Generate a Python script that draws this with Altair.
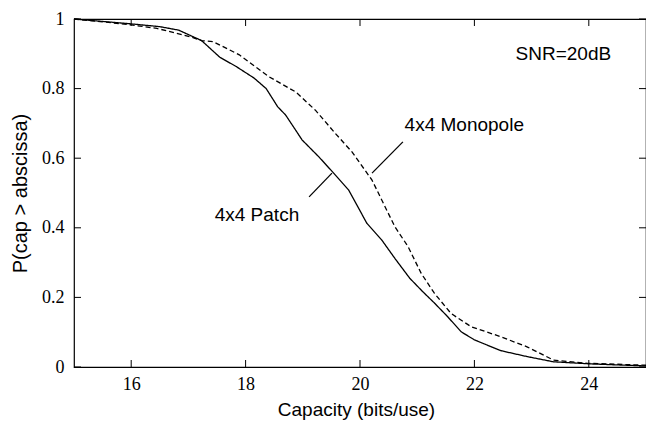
import altair as alt
import pandas as pd

# Patch (solid) curve
patch_x = [15, 15.5, 16, 16.5, 16.83, 17.23, 17.55, 17.84, 18.15, 18.36, 18.56, 18.70, 18.99,
           19.28, 19.54, 19.80, 20.12, 20.38, 20.61, 20.87, 21.10, 21.30, 21.53, 21.77, 22.0,
           22.46, 22.92, 23.38, 24.02, 25]
patch_y = [1.0, 0.993, 0.986, 0.978, 0.968, 0.938, 0.890, 0.863, 0.830, 0.800, 0.748, 0.724, 0.652,
           0.604, 0.557, 0.509, 0.413, 0.365, 0.312, 0.255, 0.216, 0.184, 0.145, 0.101, 0.078,
           0.047, 0.030, 0.015, 0.009, 0.003]

# Monopole (dashed) curve
mono_x = [15, 15.5, 16, 16.45, 17.03, 17.23, 17.43, 17.89, 18.41, 18.88, 19.22, 19.57, 19.86,
          20.21, 20.61, 20.84, 21.07, 21.30, 21.59, 21.94, 22.46, 22.92, 23.38, 23.96, 25]
mono_y = [1.0, 0.992, 0.983, 0.973, 0.949, 0.938, 0.935, 0.897, 0.834, 0.790, 0.738, 0.671, 0.618,
          0.537, 0.403, 0.346, 0.269, 0.212, 0.154, 0.116, 0.087, 0.058, 0.020, 0.011, 0.005]

x_ticks = [16, 18, 20, 22, 24]
y_ticks = [0, 0.2, 0.4, 0.6, 0.8, 1.0]

ann_text = ["SNR=20dB", "4x4 Monopole", "4x4 Patch"]
ann_x = [22.72, 20.78, 17.46]
ann_y = [0.90, 0.695, 0.437]

lead_x = [19.11, 20.75]
lead_y = [0.489, 0.647]
lead_x2 = [19.51, 20.21]
lead_y2 = [0.557, 0.557]

W, H = 572, 348
SERIF = "Liberation Serif"
SANS = "Liberation Sans"

curves = pd.DataFrame({
    "x": patch_x + mono_x,
    "y": patch_y + mono_y,
    "s": ["Patch"] * len(patch_x) + ["Monopole"] * len(mono_x),
})

xs = alt.Scale(domain=[15, 25], nice=False, zero=False)
ys = alt.Scale(domain=[0, 1], nice=False)

x_axis = alt.Axis(
    values=x_ticks, ticks=False, domain=False, grid=False,
    labelFont=SERIF, labelFontSize=18, labelColor="black",
    labelPadding=8, title="Capacity (bits/use)", titleFont=SANS,
    titleFontSize=19, titleFontWeight="normal", titleColor="black",
    titleX=W / 2 - 4, titleY=42, titleBaseline="middle")
y_axis = alt.Axis(
    values=y_ticks, format="~g", ticks=False, domain=False, grid=False,
    labelFont=SERIF, labelFontSize=18, labelColor="black",
    labelPadding=10, title="P(cap > abscissa)", titleFont=SANS,
    titleFontSize=20, titleFontWeight="normal", titleColor="black",
    titleX=-54, titleY=174, titleBaseline="middle", titleAngle=-90)


def X(field="x"):
    return alt.X(f"{field}:Q", scale=xs, axis=x_axis, title="Capacity (bits/use)")


def Y(field="y"):
    return alt.Y(f"{field}:Q", scale=ys, axis=y_axis, title="P(cap > abscissa)")


lines = alt.Chart(curves).mark_line(color="black", strokeWidth=1.3).encode(
    x=X(), y=Y(),
    strokeDash=alt.StrokeDash("s:N", scale=alt.Scale(domain=["Patch", "Monopole"],
                                                     range=[[1, 0], [5, 3]]), legend=None),
    detail="s:N",
)

xt = pd.DataFrame({"x": x_ticks})
yt = pd.DataFrame({"y": y_ticks})

tick_b = alt.Chart(xt).mark_rule(color="black", strokeWidth=1).encode(
    x=X(), y=alt.value(H), y2=alt.value(H - 7))
tick_t = alt.Chart(xt).mark_rule(color="black", strokeWidth=1).encode(
    x=X(), y=alt.value(0), y2=alt.value(7))
tick_l = alt.Chart(yt).mark_rule(color="black", strokeWidth=1).encode(
    y=Y(), x=alt.value(0), x2=alt.value(7))
tick_r = alt.Chart(yt).mark_rule(color="black", strokeWidth=1).encode(
    y=Y(), x=alt.value(W), x2=alt.value(W - 7))

ann = pd.DataFrame({"text": ann_text, "x": ann_x, "y": ann_y})
texts = alt.Chart(ann).mark_text(align="left", baseline="middle", font=SANS,
                                 fontSize=19, color="black").encode(
    x=X(), y=Y(), text="text:N")

leads = pd.DataFrame({"x": lead_x, "y": lead_y, "x2": lead_x2, "y2": lead_y2})
leaders = alt.Chart(leads).mark_rule(color="black", strokeWidth=1.3).encode(
    x=X(), y=Y(), x2="x2:Q", y2="y2:Q")

chart = alt.layer(lines, tick_b, tick_t, tick_l, tick_r, texts, leaders).properties(
    width=W, height=H,
    autosize=alt.AutoSizeParams(type="none"),
    padding={"left": 66, "top": 11, "right": 0, "bottom": 53},
    background="white",
).configure_view(stroke="black", strokeWidth=1.2).configure_axis(
    labelFont=SERIF, titleFont=SANS)

chart.save("out.html", embed_options={"renderer": "svg", "actions": False})
